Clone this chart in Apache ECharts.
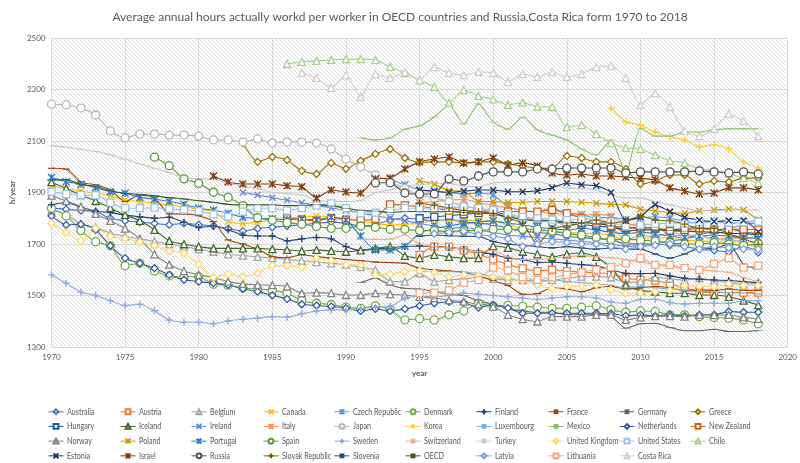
<!DOCTYPE html>
<html><head><meta charset="utf-8">
<script src="https://cdn.jsdelivr.net/npm/echarts/dist/echarts.min.js"></script>
<style>html,body{margin:0;padding:0;background:#fff}#c{width:800px;height:463px}</style>
</head><body><div id="c"></div>
<script>
const names = ['Australia','Austria','Belgium','Canada','Czech Republic','Denmark','Finland','France','Germany','Greece',
 'Hungary','Iceland','Ireland','Italy','Japan','Korea','Luxembourg','Mexico','Netherlands','New Zealand',
 'Norway','Poland','Portugal','Spain','Sweden','Switzerland','Turkey','United Kingdom','United States','Chile',
 'Estonia','Israel','Russia','Slovak Republic','Slovenia','OECD','Latvia','Lithuania','Costa Rica'];
const startYears = [1970,1995,1970,1970,1993,1970,1970,1970,1991,1983,
 1995,1970,1983,1995,1970,2008,1995,1991,1970,1986,
 1970,1995,1970,1977,1970,1991,1970,1970,1970,1986,
 1995,1981,1992,1995,1995,1970,1996,1995,1987];
const australia = [1840,1835,1830,1825,1800,1790,1785,1780,1775,1780,1775,1770,1760,1750,1760,1765,1770,1775,1780,1785,1780,1770,1775,1793,1800,1796,1790,1795,1785,1780,1776,1760,1750,1745,1740,1730,1725,1720,1718,1700,1701,1700,1695,1690,1680,1675,1670,1692,1667];
const austria = [1658,1690,1690,1675,1660,1640,1620,1605,1595,1600,1595,1590,1588,1585,1567,1561,1558,1545,1530,1515,1511,1512,1511,1511];
const belgium = [1832,1815,1777,1765,1742,1730,1720,1710,1700,1690,1680,1670,1660,1655,1650,1645,1640,1635,1630,1625,1620,1610,1599,1554,1554,1586,1554,1560,1565,1570,1565,1560,1560,1555,1560,1567,1573,1573,1570,1550,1555,1570,1565,1560,1568,1558,1550,1545,1545];
const canada = [1925,1915,1906,1898,1887,1871,1865,1858,1850,1845,1835,1825,1787,1780,1785,1793,1800,1804,1809,1805,1800,1790,1780,1774,1777,1780,1793,1793,1793,1790,1790,1774,1760,1752,1750,1745,1742,1740,1735,1715,1720,1725,1722,1715,1712,1710,1705,1710,1708];
const czech = [1950,1930,1910,1905,1900,1895,1897,1890,1845,1830,1825,1840,1820,1815,1800,1805,1795,1800,1806,1800,1788,1782,1790,1780,1785,1792];
const denmark = [1839,1809,1752,1709,1693,1616,1625,1595,1576,1573,1573,1544,1540,1530,1525,1520,1510,1480,1470,1465,1455,1450,1460,1445,1405,1410,1405,1425,1440,1470,1460,1462,1458,1455,1450,1450,1455,1460,1445,1435,1440,1438,1425,1425,1418,1415,1412,1405,1390];
const finland = [1852,1861,1843,1828,1822,1812,1806,1800,1804,1784,1764,1770,1755,1735,1731,1731,1712,1720,1725,1720,1690,1675,1680,1685,1690,1692,1690,1685,1680,1670,1660,1645,1640,1628,1630,1625,1620,1615,1600,1586,1585,1586,1576,1567,1563,1560,1558,1554,1550];
const france = [1994,1991,1940,1930,1910,1865,1890,1880,1817,1817,1810,1787,1716,1700,1680,1651,1647,1658,1651,1645,1640,1635,1630,1628,1625,1606,1600,1595,1590,1575,1558,1539,1505,1507,1530,1525,1515,1530,1535,1525,1530,1535,1530,1520,1522,1520,1525,1520,1520];
const germany = [1550,1567,1541,1528,1525,1515,1505,1500,1480,1465,1450,1440,1435,1435,1425,1425,1425,1418,1373,1390,1392,1376,1363,1363,1369,1360,1360,1363];
const greece = [2092,2019,2038,2026,1984,1972,2015,1992,2023,2050,2069,2034,2017,2019,2019,2015,2019,2019,2011,2003,1994,1994,2042,2034,2019,2019,1991,1933,1945,1968,1968,1933,1945,1941,1956,1956];
const hungary = [1800,1805,1810,1815,1820,1826,1810,1800,1795,1790,1778,1775,1770,1765,1760,1765,1760,1755,1760,1765,1755,1760,1745,1741];
const iceland = [1940,1916,1890,1867,1840,1813,1790,1755,1712,1699,1690,1683,1683,1683,1683,1680,1677,1673,1677,1673,1670,1675,1683,1690,1654,1645,1658,1650,1645,1645,1692,1685,1670,1660,1650,1660,1665,1650,1608,1540,1520,1515,1509,1509,1502,1502,1495,1480,1463];
const ireland = [1900,1890,1880,1870,1860,1850,1840,1830,1820,1810,1800,1790,1780,1770,1760,1765,1755,1745,1735,1730,1725,1720,1715,1710,1705,1700,1690,1695,1700,1710,1720,1735,1750,1760,1775,1782];
const italy = [1860,1865,1870,1874,1860,1850,1840,1830,1825,1820,1815,1812,1815,1808,1777,1776,1773,1734,1733,1734,1718,1723,1723,1723];
const japan = [2243,2240,2228,2201,2139,2112,2127,2127,2123,2123,2119,2104,2104,2096,2108,2092,2096,2096,2092,2069,2030,1999,1968,1942,1915,1890,1880,1865,1848,1835,1821,1809,1798,1799,1787,1775,1784,1785,1771,1714,1733,1728,1745,1734,1729,1719,1714,1709,1680];
const korea = [2228,2174,2162,2135,2116,2104,2077,2085,2069,2018,1995];
const luxembourg = [1593,1593,1593,1590,1586,1573,1565,1560,1555,1560,1555,1550,1545,1540,1530,1535,1530,1525,1520,1515,1515,1510,1510,1506];
const mexico = [2112,2104,2112,2146,2158,2193,2240,2166,2244,2174,2146,2193,2143,2123,2104,2069,2046,2104,1975,2150,2119,2119,2135,2135,2143,2147,2147,2147];
const netherlands = [1809,1774,1777,1755,1693,1645,1625,1606,1580,1561,1554,1548,1541,1526,1515,1501,1487,1466,1461,1457,1451,1440,1448,1440,1448,1460,1470,1475,1473,1453,1463,1451,1431,1431,1431,1431,1431,1431,1430,1421,1425,1421,1425,1421,1425,1425,1438,1435,1435];
const newZealand = [1800,1795,1790,1800,1795,1793,1797,1854,1850,1845,1840,1830,1825,1830,1826,1826,1826,1826,1832,1819,1800,1790,1770,1765,1760,1765,1750,1755,1760,1755,1757,1757,1756];
const norway = [1888,1867,1845,1817,1790,1760,1720,1660,1620,1595,1580,1570,1554,1545,1541,1540,1535,1509,1511,1509,1502,1502,1509,1505,1502,1495,1490,1482,1476,1465,1457,1425,1408,1399,1418,1418,1418,1425,1425,1405,1415,1420,1420,1418,1425,1424,1425,1415,1409];
const poland = [1945,1932,1907,1906,1865,1865,1861,1862,1865,1865,1865,1862,1858,1854,1852,1835,1828,1822,1819,1829,1832,1836,1832,1793];
const portugal = [1958,1942,1932,1919,1903,1897,1881,1874,1865,1854,1839,1832,1819,1804,1800,1798,1795,1797,1793,1804,1793,1731,1677,1677,1690,1742,1760,1770,1780,1785,1790,1780,1775,1765,1760,1755,1760,1755,1745,1740,1745,1740,1730,1725,1730,1735,1730,1725,1722];
const spain = [2037,2004,1953,1936,1901,1881,1849,1802,1793,1783,1777,1768,1761,1761,1770,1765,1757,1757,1752,1752,1748,1752,1752,1757,1757,1757,1757,1750,1740,1735,1725,1716,1720,1715,1712,1705,1700,1700,1705,1700,1695,1701];
const sweden = [1580,1548,1513,1500,1480,1461,1466,1441,1405,1396,1396,1390,1401,1408,1412,1418,1416,1429,1440,1444,1444,1450,1455,1457,1489,1496,1495,1500,1510,1505,1500,1495,1490,1485,1490,1495,1495,1490,1475,1470,1485,1485,1473,1467,1470,1470,1470,1480,1480];
const switzerland = [1718,1718,1718,1735,1700,1690,1685,1680,1670,1675,1650,1640,1640,1645,1650,1655,1650,1647,1640,1630,1620,1610,1605,1600,1595,1590,1570,1554];
const turkey = [2081,2076,2068,2059,2046,2029,2011,1994,1978,1958,1953,1953,1936,1925,1915,1900,1895,1890,1870,1865,1865,1868,1900,1910,1925,1930,1935,1935,1925,1922,1937,1941,1941,1941,1930,1918,1915,1910,1890,1879,1879,1865,1852,1840,1829,1829,1832,1832,1832];
const unitedKingdom = [1780,1745,1712,1761,1729,1722,1709,1693,1673,1664,1621,1570,1583,1573,1586,1616,1616,1610,1645,1636,1619,1619,1580,1583,1593,1596,1590,1573,1580,1578,1573,1570,1557,1541,1526,1535,1537,1541,1522,1509,1510,1515,1520,1539,1537,1535,1545,1539,1539];
const unitedStates = [1903,1894,1890,1890,1861,1839,1839,1841,1836,1833,1828,1815,1806,1826,1839,1839,1830,1839,1849,1858,1839,1819,1822,1828,1839,1839,1839,1840,1845,1839,1832,1815,1805,1800,1795,1793,1795,1793,1785,1768,1774,1778,1782,1780,1785,1785,1783,1785,1787];
const chile = [2399,2407,2411,2415,2418,2418,2414,2388,2364,2336,2310,2248,2298,2275,2262,2240,2249,2233,2232,2154,2162,2127,2092,2073,2069,2045,2023,2015,1990,1987,1974,1956,1937];
const estonia = [1910,1905,1900,1905,1910,1910,1903,1903,1907,1918,1937,1930,1926,1900,1790,1806,1852,1826,1804,1793,1787,1791,1791,1748];
const israel = [1964,1941,1933,1933,1933,1926,1922,1879,1910,1902,1898,1953,1956,1991,2019,2030,2038,2015,2019,2034,2007,2015,2003,1976,1968,1972,1964,1964,1960,1955,1949,1918,1906,1894,1898,1918,1918,1910];
const russia = [1937,1938,1898,1894,1894,1953,1945,1964,1980,1980,1980,1991,1991,1995,1995,1995,1995,1976,1980,1980,1980,1980,1984,1980,1976,1980,1972];
const slovakRepublic = [1858,1850,1840,1830,1825,1819,1800,1780,1699,1760,1770,1780,1793,1781,1790,1809,1793,1790,1777,1761,1761,1740,1720,1698];
const slovenia = [1730,1735,1732,1730,1729,1710,1700,1695,1690,1685,1690,1685,1680,1685,1680,1680,1661,1645,1661,1683,1683,1700,1621,1602];
const oecd = [1949,1949,1932,1923,1907,1897,1893,1887,1880,1875,1868,1862,1854,1852,1852,1852,1849,1849,1852,1848,1839,1830,1828,1822,1826,1826,1825,1826,1822,1820,1818,1805,1795,1790,1790,1785,1783,1780,1770,1750,1755,1755,1752,1750,1748,1746,1742,1740,1736];
const latvia = [1740,1745,1750,1735,1730,1720,1690,1700,1710,1705,1700,1700,1690,1680,1690,1695,1700,1690,1680,1690,1685,1680,1680];
const lithuania = [1509,1511,1520,1550,1560,1608,1597,1571,1561,1570,1580,1590,1600,1610,1625,1645,1619,1619,1606,1599,1623,1645,1608,1615];
const costaRica = [2364,2345,2306,2356,2271,2360,2345,2368,2337,2387,2364,2356,2368,2364,2329,2360,2349,2368,2349,2360,2387,2391,2345,2240,2286,2232,2139,2119,2147,2205,2178,2119];
const seriesValues = [australia,austria,belgium,canada,czech,denmark,finland,france,germany,greece,
 hungary,iceland,ireland,italy,japan,korea,luxembourg,mexico,netherlands,newZealand,
 norway,poland,portugal,spain,sweden,switzerland,turkey,unitedKingdom,unitedStates,chile,
 estonia,israel,russia,slovakRepublic,slovenia,oecd,latvia,lithuania,costaRica];
const yTicks = [1300,1500,1700,1900,2100,2300,2500];
const xTicks = [1970,1975,1980,1985,1990,1995,2000,2005,2010,2015,2020];

const colors = ['#4472C4','#ED7D31','#A5A5A5','#FFC000','#5B9BD5','#70AD47','#264478','#9E480E','#636363','#997300',
 '#255E91','#43682B','#698ED0','#F1975A','#B7B7B7','#FFCD33','#7CAFDD','#8CC168','#335AA1','#D26012',
 '#848484','#CC9A00','#327DC2','#5C9A3A','#8FAADC','#F4B183','#C9C9C9','#FFD966','#9DC3E6','#A9D18E',
 '#203864','#843C0C','#525252','#7F6000','#1F4E79','#385723','#7E9BD9','#F3A77A','#CFCFCF'];
const markerCycle = ['diamond','square','triangle','x','star','circle','plus','dash','longdash'];
const SYM = {
  diamond:{symbol:'diamond',size:7,hollow:true},
  square:{symbol:'rect',size:7,hollow:true},
  triangle:{symbol:'triangle',size:7,hollow:true},
  circle:{symbol:'circle',size:8,hollow:true},
  x:{symbol:'path://M0,0L10,10M10,0L0,10',size:6,stroke:true},
  star:{symbol:'path://M0,0L10,10M10,0L0,10M5,0L5,10',size:7,stroke:true},
  plus:{symbol:'path://M5,0L5,10M0,5L10,5',size:7,stroke:true},
  dash:{symbol:'path://M0,0L10,0L10,4L0,4Z',size:[7,3]},
  longdash:{symbol:'path://M0,0L14,0L14,3L0,3Z',size:[10,2.5]}
};

// hatch pattern
const pc = document.createElement('canvas');
pc.width = 4; pc.height = 4;
const g = pc.getContext('2d');
g.fillStyle = '#ffffff'; g.fillRect(0,0,4,4);
g.strokeStyle = '#dcdcdc'; g.lineWidth = 1;
g.beginPath(); g.moveTo(-1,-1); g.lineTo(5,5); g.stroke();

const FONT = 'Lato, "Noto Sans", sans-serif';
const series = names.map((n,i)=>{
  const m = SYM[markerCycle[i % 9]];
  const c = colors[i];
  const item = m.hollow ? {color:'#fff', borderColor:c, borderWidth:1.3}
             : m.stroke ? {color:c, borderColor:c, borderWidth:1.4}
             : {color:c, borderWidth:0};
  return {
    name:n, type:'line', smooth:0.2,
    data: seriesValues[i].map((v,k)=>[startYears[i]+k, v]),
    symbol:m.symbol, symbolSize:m.size, symbolKeepAspect:true, showSymbol:true,
    lineStyle:{color:c, width:1.1},
    itemStyle:item,
    emphasis:{disabled:true}, z: 2
  };
});

const colX = [48,120,191,263,334,405,476,548,619,690];
const legendTop = 401;
const rowStep = 14.7;
const legends = colX.map((x,c)=>({
  orient:'vertical', left:x-5, top:legendTop, height:120,
  data:[0,10,20,30].map(o=>names[c+o]).filter(Boolean),
  itemWidth:15, itemHeight:6, itemGap:3.2,
  formatter:()=>' ',
  textStyle:{fontSize:8, color:'#595959', fontFamily:FONT, lineHeight:11.5},
  lineStyle:{width:1},
  selectedMode:false
}));
// legend labels drawn as condensed text (Calibri-like width)
const labelGraphics = names.map((n,i)=>({
  type:'text', silent:true,
  x: colX[i % 10] + 19, y: legendTop + 5 + 5.75 + Math.floor(i/10)*rowStep,
  scaleX:0.8,
  style:{text:n, font:'9px Lato', fill:'#595959', verticalAlign:'middle', align:'left'}
}));

const chart = echarts.init(document.getElementById('c'), null, {renderer:'canvas'});
chart.setOption({
  animation:false,
  title:{text:'Average annual hours actually workd per worker in OECD countries and Russia,Costa Rica form 1970 to 2018',
    left:'center', top:6, textStyle:{fontSize:12, fontWeight:'normal', color:'#595959', fontFamily:FONT}},
  grid:{left:40, right:10, top:38, bottom:116, show:true, borderWidth:0,
    backgroundColor:{image:pc, repeat:'repeat'}},
  xAxis:{type:'value', min:xTicks[0], max:xTicks[xTicks.length-1], interval:5,
    name:'year', nameLocation:'middle', nameGap:22,
    nameTextStyle:{fontSize:8, color:'#595959', fontWeight:'bold', fontFamily:FONT},
    axisLine:{show:false}, axisTick:{show:false},
    axisLabel:{fontSize:8, color:'#595959', fontFamily:FONT, margin:6, formatter:v=>String(v)},
    splitLine:{show:true, lineStyle:{color:'#d9d9d9', width:1}}},
  yAxis:{type:'value', min:yTicks[0], max:yTicks[yTicks.length-1], interval:200,
    name:'h/year', nameLocation:'middle', nameGap:34, nameRotate:90,
    nameTextStyle:{fontSize:8, color:'#595959', fontWeight:'bold', fontFamily:FONT},
    axisLine:{show:false}, axisTick:{show:false},
    axisLabel:{fontSize:8, color:'#595959', fontFamily:FONT, margin:6, formatter:v=>String(v)},
    splitLine:{show:true, lineStyle:{color:'#d9d9d9', width:1}}},
  legend:legends,
  graphic:labelGraphics,
  series:series
});
</script></body></html>
